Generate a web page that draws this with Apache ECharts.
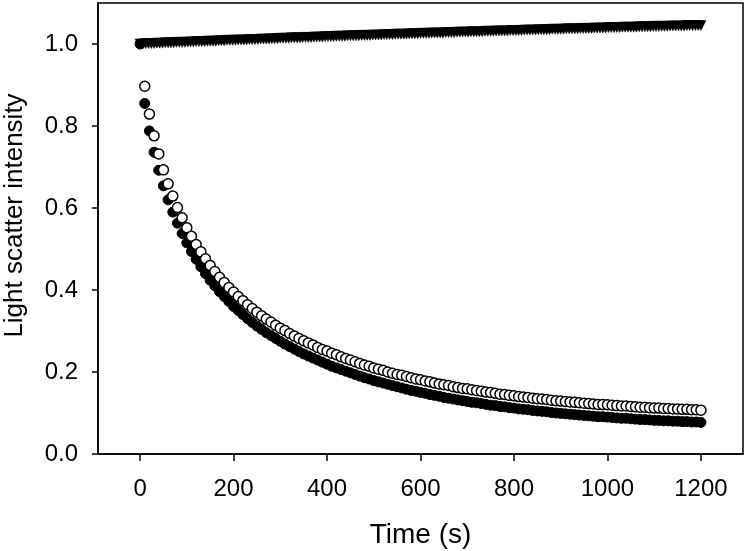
<!DOCTYPE html>
<html><head><meta charset="utf-8">
<script src="https://cdn.jsdelivr.net/npm/echarts@6/dist/echarts.min.js"></script>
<style>html,body{margin:0;padding:0;background:#fff}#c{width:747px;height:551px}</style>
</head><body><div id="c"></div><script>
const xTicks = [0, 200, 400, 600, 800, 1000, 1200];
const yTicks = [0, 0.2, 0.4, 0.6, 0.8, 1.0];
const xTitle = 'Time (s)';
const yTitle = 'Light scatter intensity';

// control series (filled inverted triangles), sampled every 6 s from 0 to 1200 s
const triStep = 6;
const triValues = [
1.000,1.000,1.001,1.001,1.001,1.001,1.002,1.002,1.002,1.003,
1.003,1.003,1.003,1.004,1.004,1.004,1.004,1.005,1.005,1.005,
1.006,1.006,1.006,1.006,1.007,1.007,1.007,1.007,1.008,1.008,
1.008,1.009,1.009,1.009,1.009,1.010,1.010,1.010,1.010,1.011,
1.011,1.011,1.011,1.012,1.012,1.012,1.012,1.013,1.013,1.013,
1.014,1.014,1.014,1.014,1.015,1.015,1.015,1.015,1.016,1.016,
1.016,1.016,1.017,1.017,1.017,1.017,1.018,1.018,1.018,1.018,
1.019,1.019,1.019,1.019,1.020,1.020,1.020,1.020,1.020,1.021,
1.021,1.021,1.021,1.022,1.022,1.022,1.022,1.023,1.023,1.023,
1.023,1.024,1.024,1.024,1.024,1.024,1.025,1.025,1.025,1.025,
1.026,1.026,1.026,1.026,1.027,1.027,1.027,1.027,1.027,1.028,
1.028,1.028,1.028,1.029,1.029,1.029,1.029,1.029,1.030,1.030,
1.030,1.030,1.030,1.031,1.031,1.031,1.031,1.032,1.032,1.032,
1.032,1.032,1.033,1.033,1.033,1.033,1.033,1.034,1.034,1.034,
1.034,1.034,1.035,1.035,1.035,1.035,1.035,1.036,1.036,1.036,
1.036,1.036,1.037,1.037,1.037,1.037,1.037,1.038,1.038,1.038,
1.038,1.038,1.039,1.039,1.039,1.039,1.039,1.040,1.040,1.040,
1.040,1.040,1.041,1.041,1.041,1.041,1.041,1.041,1.042,1.042,
1.042,1.042,1.042,1.043,1.043,1.043,1.043,1.043,1.043,1.044,
1.044,1.044,1.044,1.044,1.044,1.045,1.045,1.045,1.045,1.045,
1.045];

// filled circles, every 10 s from 0 to 1200 s
const filledStep = 10;
const filledValues = [
1.000,
0.855,0.788,0.736,0.692,0.654,0.620,0.590,0.563,0.538,0.515,
0.494,0.475,0.457,0.440,0.424,0.410,0.396,0.384,0.372,0.360,
0.350,0.340,0.330,0.321,0.312,0.304,0.296,0.289,0.282,0.275,
0.268,0.262,0.256,0.250,0.244,0.239,0.234,0.229,0.224,0.219,
0.214,0.210,0.206,0.202,0.198,0.194,0.190,0.186,0.183,0.179,
0.176,0.173,0.170,0.167,0.164,0.161,0.158,0.155,0.153,0.150,
0.148,0.145,0.143,0.141,0.138,0.136,0.134,0.132,0.130,0.128,
0.126,0.125,0.123,0.121,0.119,0.118,0.116,0.115,0.113,0.112,
0.110,0.109,0.108,0.106,0.105,0.104,0.103,0.101,0.100,0.099,
0.098,0.097,0.096,0.095,0.094,0.093,0.092,0.091,0.091,0.090,
0.089,0.088,0.087,0.087,0.086,0.085,0.084,0.084,0.083,0.082,
0.082,0.081,0.081,0.080,0.080,0.079,0.079,0.078,0.078,0.077];

// open circles, every 10 s from 10 to 1200 s
const openStart = 10;
const openStep = 10;
const openValues = [
0.897,0.829,0.776,0.732,0.693,0.659,0.629,0.601,0.576,0.552,
0.531,0.511,0.493,0.476,0.460,0.445,0.431,0.418,0.406,0.395,
0.384,0.374,0.364,0.355,0.346,0.337,0.329,0.322,0.314,0.307,
0.301,0.294,0.288,0.282,0.276,0.271,0.266,0.260,0.255,0.251,
0.246,0.242,0.237,0.233,0.229,0.225,0.221,0.217,0.214,0.210,
0.207,0.204,0.200,0.197,0.194,0.192,0.189,0.186,0.183,0.181,
0.178,0.176,0.173,0.171,0.169,0.167,0.164,0.162,0.160,0.159,
0.157,0.155,0.153,0.151,0.150,0.148,0.146,0.145,0.143,0.142,
0.140,0.139,0.138,0.136,0.135,0.134,0.133,0.131,0.130,0.129,
0.128,0.127,0.126,0.125,0.124,0.123,0.122,0.121,0.121,0.120,
0.119,0.118,0.117,0.117,0.116,0.115,0.114,0.114,0.113,0.112,
0.112,0.111,0.111,0.110,0.110,0.109,0.109,0.108,0.108,0.107];

const triData = triValues.map((v, i) => [i * triStep, v]);
const filledData = filledValues.map((v, i) => [i * filledStep, v]);
const openData = openValues.map((v, i) => [openStart + i * openStep, v]);

const FONT = '"Liberation Sans", Arial, sans-serif';
const chart = echarts.init(document.getElementById('c'), null, {renderer: 'canvas'});
chart.setOption({
  animation: false,
  backgroundColor: '#fff',
  grid: {left: 98, right: 4, top: 3, bottom: 97, containLabel: false, outerBoundsMode: 'none',
         show: true, borderColor: '#000', borderWidth: 1.5, backgroundColor: 'transparent'},
  xAxis: {
    type: 'value', min: -90, max: 1290,
    name: xTitle, nameLocation: 'middle', nameGap: 67,
    nameTextStyle: {fontFamily: FONT, fontSize: 28, color: '#000', verticalAlign: 'top'},
    axisLine: {show: true, onZero: false, lineStyle: {color: '#000', width: 1.5}},
    axisTick: {show: true, inside: false, length: 7, customValues: xTicks, lineStyle: {color: '#000', width: 1.5}},
    axisLabel: {customValues: xTicks, fontFamily: FONT, fontSize: 24, color: '#000', margin: 23, formatter: v => String(v)},
    splitLine: {show: false}
  },
  yAxis: {
    type: 'value', min: 0, max: 1.1,
    name: yTitle, nameLocation: 'middle', nameGap: 70,
    nameTextStyle: {fontFamily: FONT, fontSize: 26, color: '#000', padding: [0, 0, 0, 26]},
    axisLine: {show: true, onZero: false, lineStyle: {color: '#000', width: 1.5}},
    axisTick: {show: true, inside: false, length: 6, customValues: yTicks, lineStyle: {color: '#000', width: 1.5}},
    axisLabel: {customValues: yTicks, fontFamily: FONT, fontSize: 24, color: '#000', margin: 20, formatter: v => v.toFixed(1)},
    splitLine: {show: false}
  },
  series: [
    {type: 'scatter', data: triData, symbol: 'triangle', symbolRotate: 180, symbolSize: [10, 10],
     itemStyle: {color: '#000', borderColor: '#000', borderWidth: 0.5, opacity: 1}, silent: true},
    {type: 'scatter', data: filledData, symbol: 'circle', symbolSize: 10,
     itemStyle: {color: '#000', borderColor: '#000', borderWidth: 1, opacity: 1}, silent: true},
    {type: 'scatter', data: openData, symbol: 'circle', symbolSize: 10,
     itemStyle: {color: '#fff', borderColor: '#000', borderWidth: 1.5, opacity: 1}, silent: true}
  ]
});
</script></body></html>
